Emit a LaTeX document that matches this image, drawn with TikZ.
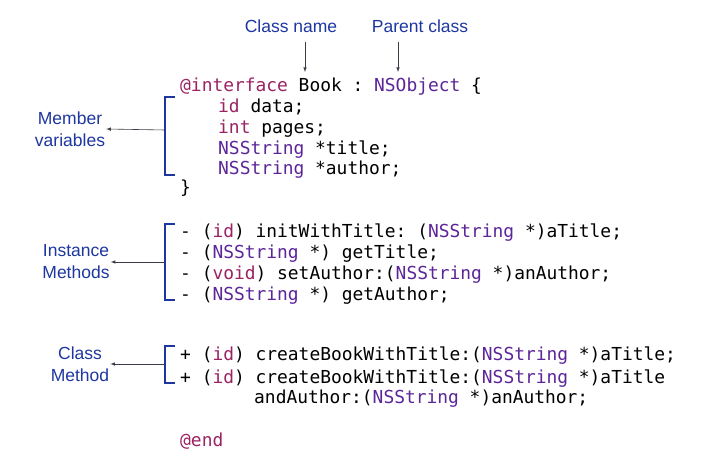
\documentclass[tikz,border=0pt]{standalone}
\usepackage{fontspec}
\setmainfont{Liberation Sans}
\setmonofont{DejaVu Sans Mono}
\definecolor{kw}{RGB}{155,35,100}
\definecolor{cls}{RGB}{92,38,153}
\definecolor{lbl}{RGB}{30,55,160}
\definecolor{arr}{RGB}{60,60,70}
\newcommand{\K}[1]{\textcolor{kw}{#1}}
\newcommand{\C}[1]{\textcolor{cls}{#1}}
\begin{document}
\begin{tikzpicture}[x=1pt,y=-1pt,
  code/.style={anchor=base west,inner sep=0pt,font=\ttfamily\fontsize{17.9}{20}\selectfont},
  lab/.style={align=center,text=lbl,font=\fontsize{17.5}{22}\selectfont,inner sep=1pt},
  brk/.style={draw=lbl,line width=1.3pt},
  ar/.style={draw=arr,line width=0.6pt,-latex}]
\useasboundingbox (0,0) rectangle (704,476);
\fill[white] (0,0) rectangle (704,476);
\node[code] (l1) at (180,92) {\K{@interface} Book : \C{NSObject} \{};
\node[code] (l2) at (218,113) {\K{id} data;};
\node[code] (l3) at (218,134) {\K{int} pages;};
\node[code] (l4) at (218,154) {\C{NSString} *title;};
\node[code] (l5) at (218,175) {\C{NSString} *author;};
\node[code] (l6) at (180,193) {\}};
\node[code] (m1) at (180,237) {- (\K{id}) initWithTitle: (\C{NSString} *)aTitle;};
\node[code] (m2) at (180,258) {- (\C{NSString} *) getTitle;};
\node[code] (m3) at (180,279) {- (\K{void}) setAuthor:(\C{NSString} *)anAuthor;};
\node[code] (m4) at (180,300) {- (\C{NSString} *) getAuthor;};
\node[code] (c1) at (180,360) {+ (\K{id}) createBookWithTitle:(\C{NSString} *)aTitle;};
\node[code] (c2) at (180,383) {+ (\K{id}) createBookWithTitle:(\C{NSString} *)aTitle};
\node[code] (c3) at (254,403) {andAuthor:(\C{NSString} *)anAuthor;};
\node[code] (e) at (180,446) {\K{@end}};
\node[lab] (cn) at (291,26) {Class name};
\node[lab] (pc) at (420,26) {Parent class};
\coordinate (cnt) at (305,72);
\coordinate (pct) at (398,72);
\draw[ar] (305,42) -- (cnt);
\draw[ar] (398,42) -- (pct);
\node[lab] (mv) at (70,129) {Member\\variables};
\node[lab] (im) at (76,262) {Instance\\Methods};
\node[lab] (cm) at (80,364) {Class\\Method};
\draw[brk] (175,97) -- (165,97) -- (165,175) -- (175,175);
\draw[brk] (175,224) -- (165,224) -- (165,300) -- (175,300);
\draw[brk] (175,346) -- (165,346) -- (165,383) -- (175,383);
\coordinate (b1) at (165,130);
\coordinate (b2) at (165,262);
\coordinate (b3) at (165,364);
\draw[ar] (b1) -- (mv.east);
\draw[ar] (b2) -- (im.east);
\draw[ar] (b3) -- (cm.east);
\end{tikzpicture}
\end{document}
